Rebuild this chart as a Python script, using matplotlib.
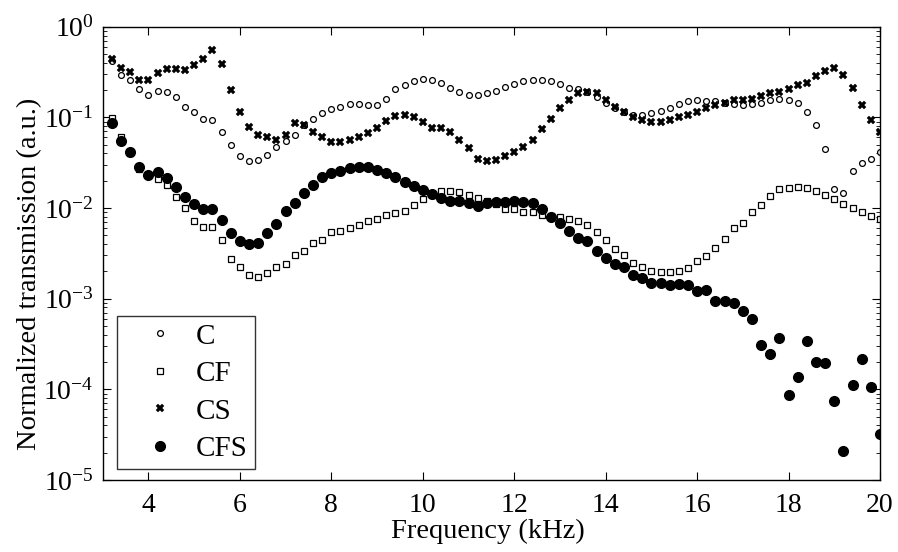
import matplotlib
matplotlib.use('Agg')
import matplotlib.pyplot as plt
from matplotlib.ticker import LogLocator, FixedLocator, NullLocator

plt.rc('font', family='serif', serif=['Liberation Serif'])
plt.rc('mathtext', fontset='custom', rm='Liberation Serif', it='Liberation Serif:italic')

#-- Frequency axis: 3.2 to 20 kHz in 0.2 kHz steps (85 points)
freq = [round(3.2 + 0.2 * i, 1) for i in range(85)]

c_vals = [0.42, 0.296, 0.258, 0.204, 0.178, 0.197, 0.19, 0.166, 0.131, 0.115,
          0.0966, 0.0935, 0.069, 0.049, 0.0375, 0.0327, 0.0339, 0.0388, 0.0475, 0.0544,
          0.0645, 0.0817, 0.0966, 0.111, 0.123, 0.131, 0.140, 0.140, 0.136, 0.136,
          0.161, 0.204, 0.225, 0.25, 0.267, 0.258, 0.241, 0.211, 0.19, 0.178,
          0.178, 0.184, 0.197, 0.218, 0.233, 0.25, 0.258, 0.258, 0.25, 0.233,
          0.211, 0.204, 0.19, 0.166, 0.145, 0.127, 0.115, 0.107, 0.107, 0.111,
          0.119, 0.127, 0.140, 0.150, 0.155, 0.150, 0.150, 0.145, 0.140, 0.136,
          0.140, 0.145, 0.155, 0.161, 0.155, 0.145, 0.115, 0.0817, 0.0444, 0.0161,
          0.0145, 0.0258, 0.0316, 0.035, 0.0415]

cf_vals = [0.098, 0.061, 0.040, 0.027, 0.023, 0.0211, 0.0178, 0.0131, 0.0100, 0.00713,
           0.00622, 0.00622, 0.00444, 0.00276, 0.00226, 0.00184, 0.00172, 0.0019, 0.00226, 0.00242,
           0.00306, 0.00339, 0.00415, 0.00444, 0.00544, 0.00562, 0.0060, 0.00645, 0.00713, 0.00762,
           0.00845, 0.00875, 0.00935, 0.0107, 0.0125, 0.0139, 0.0155, 0.0155, 0.0150, 0.0140,
           0.0129, 0.0120, 0.0111, 0.0097, 0.0097, 0.00904, 0.00904, 0.00845, 0.00817, 0.0079,
           0.00762, 0.00713, 0.00645, 0.00544, 0.00444, 0.00351, 0.00306, 0.00249, 0.00226, 0.00204,
           0.00197, 0.00197, 0.00204, 0.00218, 0.00259, 0.00296, 0.00362, 0.00459, 0.0060, 0.00689,
           0.00904, 0.0107, 0.0136, 0.0161, 0.0166, 0.0172, 0.0166, 0.0155, 0.0140, 0.0127,
           0.0111, 0.0100, 0.00904, 0.00817, 0.00762]

cs_vals = [0.44, 0.35, 0.32, 0.26, 0.26, 0.31, 0.34, 0.34, 0.33, 0.375,
           0.44, 0.56, 0.39, 0.20, 0.115, 0.079, 0.064, 0.060, 0.056, 0.064,
           0.087, 0.082, 0.069, 0.060, 0.053, 0.053, 0.056, 0.060, 0.0667, 0.0763,
           0.0904, 0.1035, 0.107, 0.100, 0.090, 0.076, 0.076, 0.069, 0.056, 0.046,
           0.035, 0.0327, 0.0339, 0.0375, 0.0415, 0.0475, 0.056, 0.074, 0.0966, 0.127,
           0.155, 0.184, 0.19, 0.184, 0.155, 0.131, 0.115, 0.100, 0.0935, 0.090,
           0.090, 0.0935, 0.100, 0.107, 0.115, 0.127, 0.136, 0.145, 0.155, 0.155,
           0.161, 0.172, 0.184, 0.19, 0.204, 0.225, 0.241, 0.286, 0.327, 0.35,
           0.296, 0.211, 0.136, 0.0935, 0.069]

cfs_vals = [0.086, 0.0544, 0.0415, 0.0284, 0.0231, 0.0248, 0.0217, 0.0171, 0.0131, 0.0111,
            0.0097, 0.0097, 0.00738, 0.00526, 0.0043, 0.0040, 0.00415, 0.00526, 0.00667, 0.00935,
            0.01145, 0.01455, 0.0178, 0.0218, 0.0242, 0.0258, 0.0277, 0.0286, 0.0286, 0.0263,
            0.0245, 0.0222, 0.0194, 0.0175, 0.0158, 0.0143, 0.0129, 0.0121, 0.0121, 0.0113,
            0.0105, 0.0113, 0.0117, 0.0117, 0.0121, 0.0117, 0.0113, 0.00984, 0.0080, 0.00679,
            0.00554, 0.00468, 0.00436, 0.00333, 0.00281, 0.00242, 0.00222, 0.00181, 0.00169, 0.00148,
            0.00148, 0.00141, 0.00145, 0.00141, 0.00122, 0.00125, 0.00095, 0.00095, 0.00090, 0.00073,
            0.00060, 3.11e-4, 2.46e-4, 3.69e-4, 8.61e-5, 1.38e-4, 3.44e-4, 2.00e-4, 1.94e-4, 7.50e-5,
            2.07e-5, 1.13e-4, 2.15e-4, 1.05e-4, 3.22e-5]

x_ticks = [4, 6, 8, 10, 12, 14, 16, 18, 20]

fig = plt.figure(figsize=(8.98, 5.52), dpi=100)
ax = fig.add_axes([0.1144, 0.1304, 0.8656, 0.8212])

ax.plot(freq, c_vals, 'o', mfc='white', mec='black', mew=0.9, ms=4.2, label='C')
ax.plot(freq, cf_vals, 's', mfc='white', mec='black', mew=0.9, ms=4.0, label='CF')
ax.plot(freq, cs_vals, 'X', mfc='black', mec='black', mew=0.3, ms=5.2, label='CS')
ax.plot(freq, cfs_vals, 'o', mfc='black', mec='black', ms=7.0, label='CFS')

ax.set_yscale('log')
ax.set_xlim(3, 20)
ax.set_ylim(1e-5, 1)
ax.xaxis.set_major_locator(FixedLocator(x_ticks))
ax.xaxis.set_minor_locator(NullLocator())
ax.yaxis.set_major_locator(LogLocator(base=10, numticks=10))
ax.yaxis.set_minor_locator(LogLocator(base=10, subs=range(2, 10), numticks=20))

ax.tick_params(which='both', direction='in', top=True, right=True, labelsize=20)
ax.tick_params(which='major', length=5.5, width=0.8)
ax.tick_params(which='minor', length=3, width=0.6)
ax.tick_params(axis='x', pad=9)
ax.tick_params(axis='y', pad=6.5)
for s in ax.spines.values():
    s.set_linewidth(1.0)

ax.set_xlabel('Frequency (kHz)', fontsize=20.5)
ax.set_ylabel('Normalized transmission (a.u.)', fontsize=20.5)
ax.xaxis.set_label_coords(0.496, -0.086)
ax.yaxis.set_label_coords(-0.078, 0.454)

leg = ax.legend(loc='lower left', bbox_to_anchor=(0.0188, 0.0236), borderaxespad=0,
                fontsize=21, frameon=True, fancybox=False, edgecolor='black',
                borderpad=0.25, handletextpad=0.05, labelspacing=0.38,
                handlelength=2.4, markerscale=1.0)
leg.get_frame().set_linewidth(1.0)

plt.savefig('out.png', dpi=100)
